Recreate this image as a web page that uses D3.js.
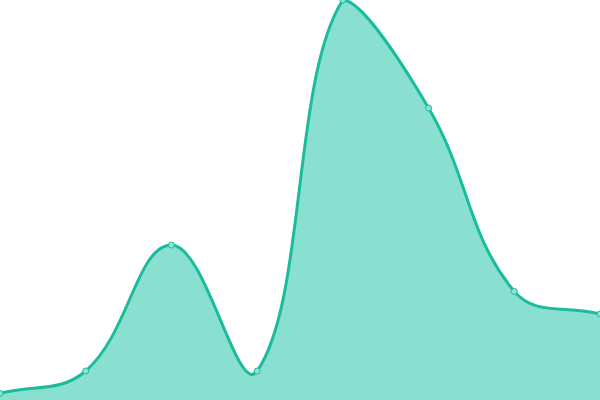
<!DOCTYPE html>
<html>
<head>
<meta charset="utf-8">
<script src="https://cdn.jsdelivr.net/npm/d3@7"></script>
<style>
  html, body { margin: 0; padding: 0; background: #fff; }
  svg { display: block; }
</style>
</head>
<body>
<svg id="chart" width="600" height="400"></svg>
<script>
let width = 600;
let height = 400;

// values
let labels = ["A", "B", "C", "D", "E", "F", "G", "H"];
let values = [3.3, 14.5, 77.5, 14.5, 200, 146, 54.3, 43];
let yDomain = [0, 200];

let lineColor = "#1abc9c";
let areaColor = "#89e0d0";

// smooth curve like a tension spline, control points kept inside the plot box
function splineCurve(tension, box) {
  function Spline(context) {
    this._context = context;
  }
  Spline.prototype = {
    areaStart: function() { this._line = 0; },
    areaEnd: function() { this._line = NaN; },
    lineStart: function() { this._pts = []; },
    point: function(x, y) { this._pts.push({ x: +x, y: +y }); },
    lineEnd: function() {
      let p = this._pts, n = p.length, c = this._context;
      let clampX = v => Math.max(box[0], Math.min(box[2], v));
      let clampY = v => Math.max(box[1], Math.min(box[3], v));
      for (let i = 0; i < n; i++) {
        let prev = p[i - 1] || p[i], cur = p[i], next = p[i + 1] || p[i];
        let d01 = Math.hypot(cur.x - prev.x, cur.y - prev.y);
        let d12 = Math.hypot(next.x - cur.x, next.y - cur.y);
        let s01 = d01 / (d01 + d12), s12 = d12 / (d01 + d12);
        if (isNaN(s01)) s01 = 0;
        if (isNaN(s12)) s12 = 0;
        let fa = tension * s01, fb = tension * s12;
        cur.cp1x = clampX(cur.x - fa * (next.x - prev.x));
        cur.cp1y = clampY(cur.y - fa * (next.y - prev.y));
        cur.cp2x = clampX(cur.x + fb * (next.x - prev.x));
        cur.cp2y = clampY(cur.y + fb * (next.y - prev.y));
      }
      if (n) {
        if (this._line) c.lineTo(p[0].x, p[0].y);
        else c.moveTo(p[0].x, p[0].y);
        for (let i = 1; i < n; i++) {
          c.bezierCurveTo(p[i - 1].cp2x, p[i - 1].cp2y, p[i].cp1x, p[i].cp1y, p[i].x, p[i].y);
        }
      }
      if (this._line || (this._line !== 0 && n === 1)) c.closePath();
      this._line = 1 - this._line;
    }
  };
  return function(context) { return new Spline(context); };
}

let xScale = d3.scalePoint().domain(labels).range([0, width]);
let yScale = d3.scaleLinear().domain(yDomain).range([height, 0]);

let curve = splineCurve(0.4, [0, 0, width, height]);

let svg = d3.select("#chart");

let area = d3.area()
  .x((d, i) => xScale(labels[i]))
  .y0(yScale(yDomain[0]))
  .y1(d => yScale(d))
  .curve(curve);

let line = d3.line()
  .x((d, i) => xScale(labels[i]))
  .y(d => yScale(d))
  .curve(curve);

svg.append("path")
  .datum(values)
  .attr("d", area)
  .attr("fill", areaColor);

svg.append("path")
  .datum(values)
  .attr("d", line)
  .attr("fill", "none")
  .attr("stroke", lineColor)
  .attr("stroke-width", 3);

svg.selectAll("circle")
  .data(values)
  .enter()
  .append("circle")
  .attr("cx", (d, i) => xScale(labels[i]))
  .attr("cy", d => yScale(d))
  .attr("r", 3)
  .attr("fill", "#8fe3d3")
  .attr("stroke", lineColor)
  .attr("stroke-width", 1);
</script>
</body>
</html>
